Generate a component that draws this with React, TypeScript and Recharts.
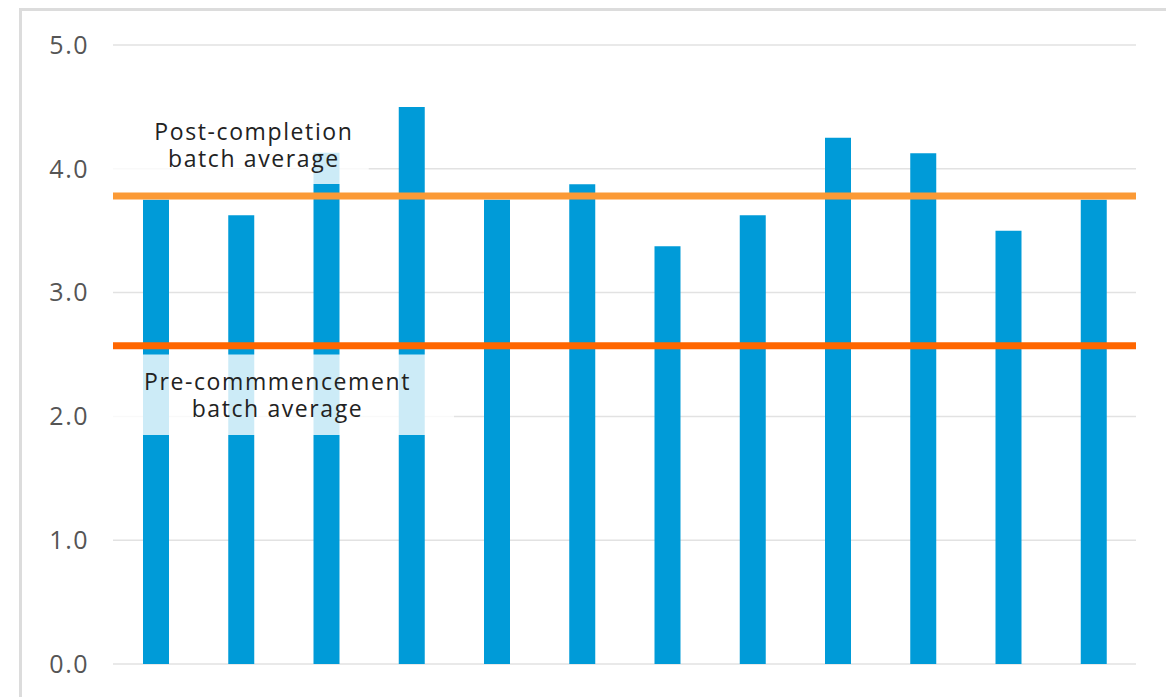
import React from 'react'
import {
  BarChart, Bar, XAxis, YAxis, CartesianGrid, ReferenceLine, ReferenceArea,
} from 'recharts'

const categories = ['1', '2', '3', '4', '5', '6', '7', '8', '9', '10', '11', '12']
const scores = [3.75, 3.625, 4.13, 4.5, 3.75, 3.875, 3.375, 3.625, 4.25, 4.125, 3.5, 3.75]
const yTicks = [0, 1, 2, 3, 4, 5]
const postAverage = 3.78
const preAverage = 2.57
const postLabel = ['Post-completion', 'batch average']
const preLabel = ['Pre-commmencement', 'batch average']

const data = categories.map((name, i) => ({ name, score: scores[i] }))

const FONT = '"Open Sans", sans-serif'

// two-line caption centred in the reference area's box
const twoLine = (lines: string[], dx = 0) => (props: any) => {
  const vb = props.viewBox || {}
  const cx = vb.x + vb.width / 2 + dx
  const cy = vb.y + vb.height / 2
  return (
    <text x={cx} y={cy} textAnchor="middle" fill="#222" fontSize={23} fontFamily={FONT} letterSpacing={1.6}>
      <tspan x={cx} y={cy - 5}>{lines[0]}</tspan>
      <tspan x={cx} y={cy + 22}>{lines[1]}</tspan>
    </text>
  )
}

export default function App() {
  return (
    <div style={{ position: 'absolute', left: 0, top: 0, width: 1166, height: 697, background: '#fff', overflow: 'hidden' }}>
      <div
        style={{
          position: 'absolute', left: 19, top: 8, width: 1200, height: 720,
          borderTop: '3px solid #dcdcdc', borderLeft: '3px solid #dcdcdc',
        }}
      />
      <div style={{ position: 'absolute', left: 0, top: 0 }}>
        <BarChart width={1166} height={697} data={data} margin={{ top: 45, right: 30, bottom: 33, left: 13 }}>
          <CartesianGrid vertical={false} stroke="#e2e2e2" strokeWidth={1.5} />
          <XAxis dataKey="name" hide />
          <YAxis
            domain={[0, 5]}
            ticks={yTicks}
            width={100}
            tickFormatter={v => v.toFixed(1)}
            tick={{ fill: '#555', fontSize: 25, fontFamily: FONT, letterSpacing: 1.5 }}
            axisLine={false}
            tickLine={false}
            tickSize={0}
            tickMargin={24}
          />
          <Bar dataKey="score" fill="#009bd8" barSize={26} isAnimationActive={false} />
          <ReferenceArea
            x1="1"
            x2="3"
            y1={3.877}
            y2={4.5}
            fill="#fff"
            fillOpacity={0.8}
            stroke="none"
            zIndex={350}
            ifOverflow="visible"
            label={twoLine(postLabel, 13)}
          />
          <ReferenceArea
            x1="1"
            x2="4"
            y1={1.85}
            y2={2.5}
            fill="#fff"
            fillOpacity={0.8}
            stroke="none"
            zIndex={350}
            ifOverflow="visible"
            label={twoLine(preLabel, -6)}
          />
          <ReferenceLine y={postAverage} stroke="#fb9a36" strokeWidth={7} zIndex={400} />
          <ReferenceLine y={preAverage} stroke="#ff6600" strokeWidth={7} zIndex={400} />
        </BarChart>
      </div>
    </div>
  )
}
